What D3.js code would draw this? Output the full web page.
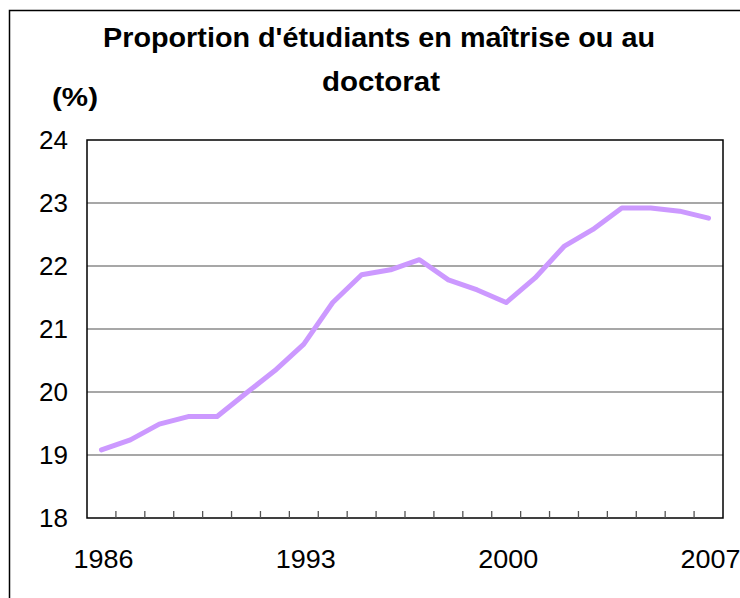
<!DOCTYPE html>
<html>
<head>
<meta charset="utf-8">
<script src="https://cdn.jsdelivr.net/npm/d3@7"></script>
<style>
  body { margin: 0; background: #fff; }
  text { font-family: "Liberation Sans", Arial, sans-serif; fill: #000; }
</style>
</head>
<body>
<svg id="chart" width="740" height="598"></svg>
<script>
// data
const years = d3.range(1986, 2008);
const proportion = [19.08, 19.24, 19.49, 19.61, 19.61, 19.98, 20.34, 20.76, 21.42, 21.86,
                    21.94, 22.10, 21.78, 21.62, 21.42, 21.81, 22.31, 22.58, 22.92, 22.92,
                    22.87, 22.76];
const yTicks = [18, 19, 20, 21, 22, 23, 24];
const xLabels = [1986, 1993, 2000, 2007];
const titleLines = ["Proportion d'étudiants en maîtrise ou au", "doctorat"];

const plot = { left: 87, right: 723, top: 140, bottom: 518 };

let svg = d3.select("#chart");

// outer chart frame
svg.append("rect")
    .attr("x", 9.5).attr("y", 10.5)
    .attr("width", 800).attr("height", 700)
    .attr("fill", "none").attr("stroke", "#000").attr("stroke-width", 1.5);

let x = d3.scaleBand().domain(years).range([plot.left, plot.right]);
let y = d3.scaleLinear().domain([18, 24]).range([plot.bottom, plot.top]);

// gridlines
svg.append("g")
    .selectAll("line")
    .data(yTicks.filter(d => d > 18 && d < 24))
    .join("line")
    .attr("x1", plot.left).attr("x2", plot.right)
    .attr("y1", d => y(d)).attr("y2", d => y(d))
    .attr("stroke", "#8a8a8a").attr("stroke-width", 1.3);

// plot area border
svg.append("rect")
    .attr("x", plot.left).attr("y", plot.top)
    .attr("width", plot.right - plot.left).attr("height", plot.bottom - plot.top)
    .attr("fill", "none").attr("stroke", "#000").attr("stroke-width", 1.5);

// y tick labels
svg.append("g")
    .selectAll("text")
    .data(yTicks)
    .join("text")
    .attr("x", 68)
    .attr("y", d => y(d) + 9)
    .attr("text-anchor", "end")
    .style("font-size", "26px")
    .text(d => d);

// x ticks at category boundaries, pointing up
svg.append("g")
    .selectAll("line")
    .data(years.slice(1))
    .join("line")
    .attr("x1", d => x(d)).attr("x2", d => x(d))
    .attr("y1", plot.bottom).attr("y2", plot.bottom - 7)
    .attr("stroke", "#555").attr("stroke-width", 1.3);

// x labels
svg.append("g")
    .selectAll("text")
    .data(xLabels)
    .join("text")
    .attr("x", d => x(d) + x.bandwidth() / 2 + 2)
    .attr("y", 568)
    .attr("text-anchor", "middle")
    .attr("textLength", 60).attr("lengthAdjust", "spacingAndGlyphs")
    .style("font-size", "26px")
    .text(d => d);

// the series line
let line = d3.line()
    .x((d, i) => x(years[i]) + x.bandwidth() / 2)
    .y(d => y(d));

svg.append("path")
    .datum(proportion)
    .attr("d", line)
    .attr("fill", "none")
    .attr("stroke", "#cc99ff")
    .attr("stroke-width", 5)
    .attr("stroke-linejoin", "round")
    .attr("stroke-linecap", "round");

// title
svg.append("text")
    .attr("x", 379).attr("y", 47)
    .attr("text-anchor", "middle")
    .attr("textLength", 552).attr("lengthAdjust", "spacingAndGlyphs")
    .style("font-size", "27px").style("font-weight", "bold")
    .text(titleLines[0]);

svg.append("text")
    .attr("x", 381).attr("y", 91)
    .attr("text-anchor", "middle")
    .attr("textLength", 118).attr("lengthAdjust", "spacingAndGlyphs")
    .style("font-size", "27px").style("font-weight", "bold")
    .text(titleLines[1]);

// unit label
svg.append("text")
    .attr("x", 52).attr("y", 106)
    .attr("textLength", 46).attr("lengthAdjust", "spacingAndGlyphs")
    .style("font-size", "25px").style("font-weight", "bold")
    .text("(%)");
</script>
</body>
</html>
